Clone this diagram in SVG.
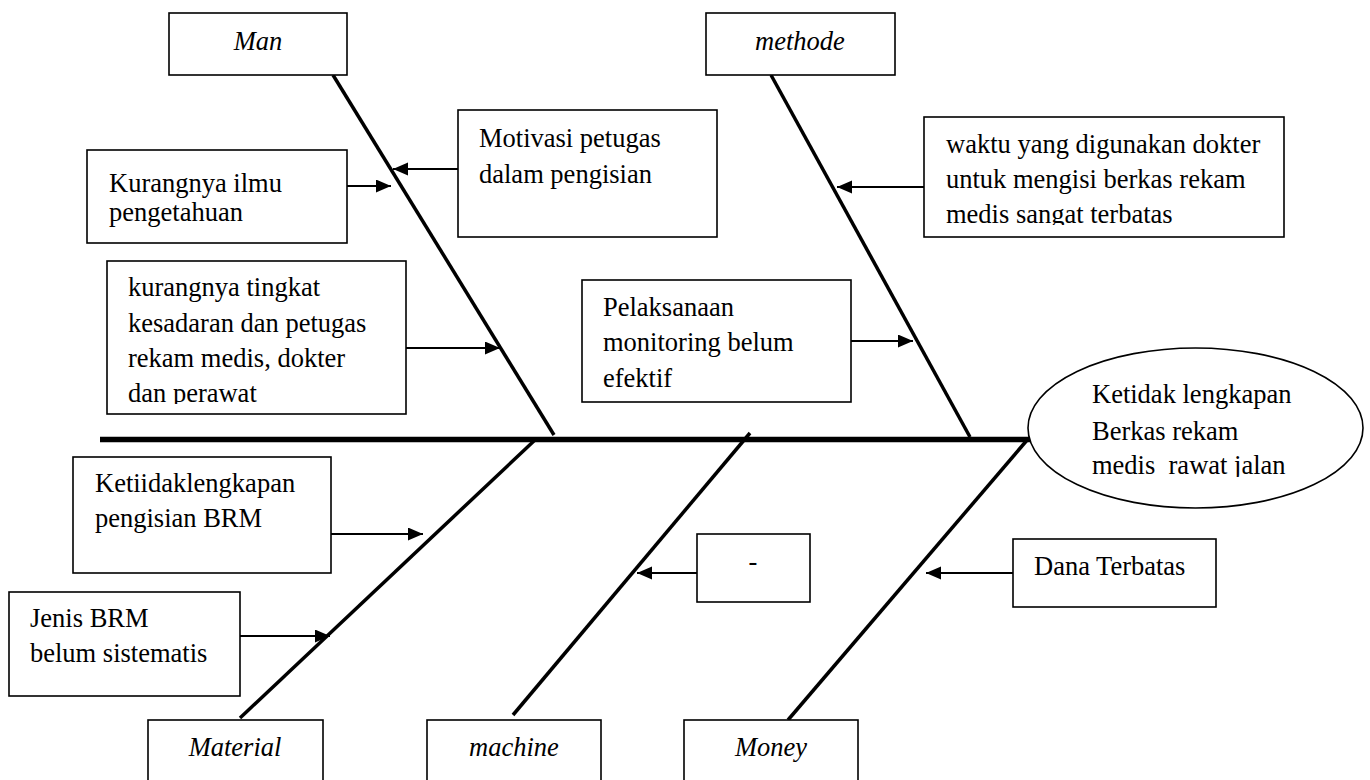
<svg xmlns="http://www.w3.org/2000/svg" width="1370" height="780" viewBox="0 0 1370 780">
<style>
.box{fill:#fff;stroke:#000;stroke-width:1.6}
.t{font-family:"Liberation Serif","Times New Roman",serif;font-size:26.5px;fill:#000}
.it{font-style:italic}
.bone{stroke:#000;stroke-width:3.5;fill:none}
.spine{stroke:#000;stroke-width:5.5;fill:none}
.arr{stroke:#000;stroke-width:2;fill:none;marker-end:url(#ah)}
</style>
<defs>
<marker id="ah" markerUnits="userSpaceOnUse" markerWidth="16" markerHeight="14" refX="15" refY="6.5" orient="auto">
<path d="M0,0 L15,6.5 L0,13 z" fill="#000"/>
</marker>
<clipPath id="c1"><rect x="100" y="255" width="310" height="149"/></clipPath>
<clipPath id="c2"><rect x="920" y="110" width="370" height="115"/></clipPath>
<clipPath id="c3"><rect x="1030" y="340" width="340" height="137"/></clipPath>
</defs>
<rect width="1370" height="780" fill="#fff"/>
<g id="connectors">
<line class="spine" x1="100" y1="439.5" x2="1030" y2="439.5"/>
<line class="bone" x1="333" y1="75" x2="554" y2="435"/>
<line class="bone" x1="771" y1="75" x2="970" y2="437"/>
<line class="bone" x1="535" y1="440" x2="240" y2="718"/>
<line class="bone" x1="750" y1="433" x2="513" y2="715"/>
<line class="bone" x1="1028" y1="439" x2="788" y2="720"/>
<line class="arr" x1="458" y1="169" x2="393" y2="169"/>
<line class="arr" x1="347" y1="186" x2="391" y2="186"/>
<line class="arr" x1="406" y1="348" x2="500" y2="348"/>
<line class="arr" x1="924" y1="187" x2="837" y2="187"/>
<line class="arr" x1="848" y1="341" x2="913" y2="341"/>
<line class="arr" x1="331" y1="534" x2="423" y2="534"/>
<line class="arr" x1="240" y1="636" x2="330" y2="636"/>
<line class="arr" x1="697" y1="573" x2="637" y2="573"/>
<line class="arr" x1="1013" y1="573" x2="926" y2="573"/>
</g>
<g id="man">
<rect class="box" x="169" y="13" width="178" height="62"/>
<text class="t it" x="258" y="50" text-anchor="middle">Man</text>
</g>
<g id="methode">
<rect class="box" x="706" y="13" width="189" height="62"/>
<text class="t it" x="800" y="50" text-anchor="middle">methode</text>
</g>
<g id="motivasi">
<rect class="box" x="458" y="110" width="259" height="127"/>
<text class="t" x="479" y="147">Motivasi petugas</text>
<text class="t" x="479" y="183">dalam pengisian</text>
</g>
<g id="kurangnya-ilmu">
<rect class="box" x="87" y="150" width="260" height="93"/>
<text class="t" x="109" y="192">Kurangnya ilmu</text>
<text class="t" x="109" y="221">pengetahuan</text>
</g>
<g id="kurangnya-tingkat">
<rect class="box" x="107" y="261" width="299" height="153"/>
<g clip-path="url(#c1)">
<text class="t" x="128" y="296">kurangnya tingkat</text>
<text class="t" x="128" y="332">kesadaran dan petugas</text>
<text class="t" x="128" y="367">rekam medis, dokter</text>
<text class="t" x="128" y="402">dan perawat</text>
</g>
</g>
<g id="waktu">
<rect class="box" x="924" y="117" width="360" height="120"/>
<g clip-path="url(#c2)">
<text class="t" x="946" y="153">waktu yang digunakan dokter</text>
<text class="t" x="946" y="188">untuk mengisi berkas rekam</text>
<text class="t" x="946" y="223">medis sangat terbatas</text>
</g>
</g>
<g id="pelaksanaan">
<rect class="box" x="582" y="280" width="269" height="122"/>
<text class="t" x="603" y="316">Pelaksanaan</text>
<text class="t" x="603" y="351">monitoring belum</text>
<text class="t" x="603" y="387">efektif</text>
</g>
<g id="effect">
<ellipse cx="1195.5" cy="428" rx="167.5" ry="80" fill="#fff" stroke="#000" stroke-width="1.6"/>
<g clip-path="url(#c3)">
<text class="t" x="1092" y="403">Ketidak lengkapan</text>
<text class="t" x="1092" y="440">Berkas rekam</text>
<text class="t" x="1092" y="474" style="white-space:pre">medis  rawat jalan</text>
</g>
</g>
<g id="ketiidaklengkapan">
<rect class="box" x="73" y="457" width="258" height="116"/>
<text class="t" x="95" y="492">Ketiidaklengkapan</text>
<text class="t" x="95" y="527">pengisian BRM</text>
</g>
<g id="jenis-brm">
<rect class="box" x="9" y="592" width="231" height="104"/>
<text class="t" x="30" y="627">Jenis BRM</text>
<text class="t" x="30" y="662">belum sistematis</text>
</g>
<g id="dash">
<rect class="box" x="697" y="534" width="113" height="68"/>
<text class="t" x="753" y="570" text-anchor="middle">-</text>
</g>
<g id="dana">
<rect class="box" x="1013" y="539" width="203" height="68"/>
<text class="t" x="1034" y="575">Dana Terbatas</text>
</g>
<g id="material">
<rect class="box" x="148" y="720" width="175" height="70"/>
<text class="t it" x="235" y="756" text-anchor="middle">Material</text>
</g>
<g id="machine">
<rect class="box" x="427" y="720" width="174" height="70"/>
<text class="t it" x="514" y="756" text-anchor="middle">machine</text>
</g>
<g id="money">
<rect class="box" x="684" y="720" width="174" height="70"/>
<text class="t it" x="771" y="756" text-anchor="middle">Money</text>
</g>
</svg>
